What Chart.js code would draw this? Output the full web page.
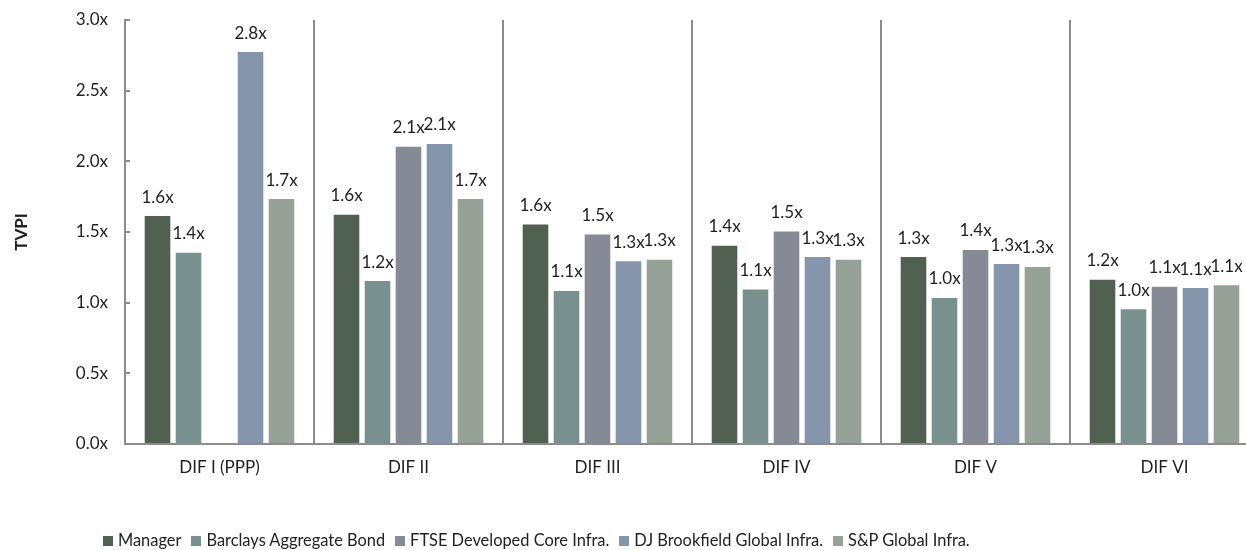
<!DOCTYPE html>
<html>
<head>
<meta charset="utf-8">
<script src="https://cdn.jsdelivr.net/npm/chart.js@4"></script>
<style>
  html, body { margin: 0; padding: 0; background: #fff; overflow: hidden; }
  #wrap { position: relative; width: 1262px; height: 550px; }
  #tvpi { display: block; }
  #legend {
    position: absolute; left: 103px; top: 530px;
    font: 16.4px Lato, sans-serif; color: #222; white-space: nowrap;
  }
  #legend span.item { margin-right: 10px; }
  #legend span.box {
    display: inline-block; width: 10px; height: 10px; margin-right: 5px;
  }
</style>
</head>
<body>
<div id="wrap">
  <canvas id="tvpi" width="1262" height="550"></canvas>
  <div id="legend"></div>
</div>
<script>
// ─── TVPI by fund vs. benchmarks ───────────────────────────────────────────

const CATEGORIES = ['DIF I (PPP)', 'DIF II', 'DIF III', 'DIF IV', 'DIF V', 'DIF VI'];

const MANAGER  = [1.62, 1.63, 1.56, 1.41, 1.33, 1.17];
const BARCLAYS = [1.36, 1.16, 1.09, 1.10, 1.04, 0.96];
const FTSE     = [null, 2.11, 1.49, 1.51, 1.38, 1.12];
const DJB      = [2.78, 2.13, 1.30, 1.33, 1.28, 1.11];
const SP       = [1.74, 1.74, 1.31, 1.31, 1.26, 1.13];

const SERIES_NAMES = [
  'Manager',
  'Barclays Aggregate Bond',
  'FTSE Developed Core Infra.',
  'DJ Brookfield Global Infra.',
  'S&P Global Infra.',
];

const Y_TICKS = { min: 0, max: 3, step: 0.5 };

const CC = {
  text:   '#1f1f1f',
  axis:   '#8c8c8c',
  colors: ['#506152', '#78908e', '#858a96', '#8595ac', '#96a198'],
};

const FONT = 'Lato, sans-serif';

// value labels above each bar ("1.6x")
const barLabels = {
  id: 'barLabels',
  afterDatasetsDraw(chart) {
    const ctx = chart.ctx;
    ctx.save();
    ctx.font = `17px ${FONT}`;
    ctx.fillStyle = CC.text;
    ctx.textAlign = 'center';
    ctx.textBaseline = 'middle';
    chart.data.datasets.forEach((ds, i) => {
      chart.getDatasetMeta(i).data.forEach((bar, j) => {
        const v = ds.data[j];
        if (v === null || v === undefined) return;
        ctx.fillText(v.toFixed(1) + 'x', bar.x, bar.y - 18);
      });
    });
    ctx.restore();
  },
};

const values = [MANAGER, BARCLAYS, FTSE, DJB, SP];

const datasets = SERIES_NAMES.map((name, i) => ({
  label: name,
  data: values[i],
  backgroundColor: CC.colors[i],
  borderColor: 'rgba(255,255,255,0.55)',
  borderWidth: 1,
  categoryPercentage: 0.82,
  barPercentage: 0.89,
}));

new Chart(document.getElementById('tvpi'), {
  type: 'bar',
  data: { labels: CATEGORIES, datasets },
  options: {
    responsive: false,
    animation: false,
    layout: { padding: { top: 20, right: 3, left: 0, bottom: 0 } },
    plugins: {
      legend: { display: false },
      tooltip: { enabled: false },
    },
    scales: {
      x: {
        offset: true,
        grid: {
          offset: true,
          color: CC.axis,
          lineWidth: 2,
          drawTicks: false,
        },
        border: { display: true, color: CC.axis, width: 2 },
        ticks: {
          color: CC.text,
          padding: 13,
          maxRotation: 0,
          font: { family: FONT, size: 17 },
        },
        afterFit: s => { s.height = 106; s.paddingLeft = 0; s.paddingRight = 0; },
      },
      y: {
        min: Y_TICKS.min,
        max: Y_TICKS.max,
        grid: {
          drawOnChartArea: false,
          drawTicks: true,
          tickLength: -5,
          color: CC.axis,
          lineWidth: 2,
        },
        border: { display: true, color: CC.axis, width: 2 },
        ticks: {
          stepSize: Y_TICKS.step,
          color: CC.text,
          padding: 22,
          font: { family: FONT, size: 17 },
          callback: v => v.toFixed(1) + 'x',
        },
        title: {
          display: true,
          text: 'TVPI',
          color: CC.text,
          padding: { top: 11, bottom: 0 },
          font: { family: FONT, size: 17, weight: 'bold' },
        },
        afterFit: s => { s.width = 125; s.paddingTop = 0; s.paddingBottom = 0; },
      },
    },
  },
  plugins: [barLabels],
});

// legend (square swatch + name), laid out along the bottom
const legend = document.getElementById('legend');
SERIES_NAMES.forEach((name, i) => {
  const item = document.createElement('span');
  item.className = 'item';
  const box = document.createElement('span');
  box.className = 'box';
  box.style.background = CC.colors[i];
  item.appendChild(box);
  item.appendChild(document.createTextNode(name));
  legend.appendChild(item);
});
</script>
</body>
</html>
